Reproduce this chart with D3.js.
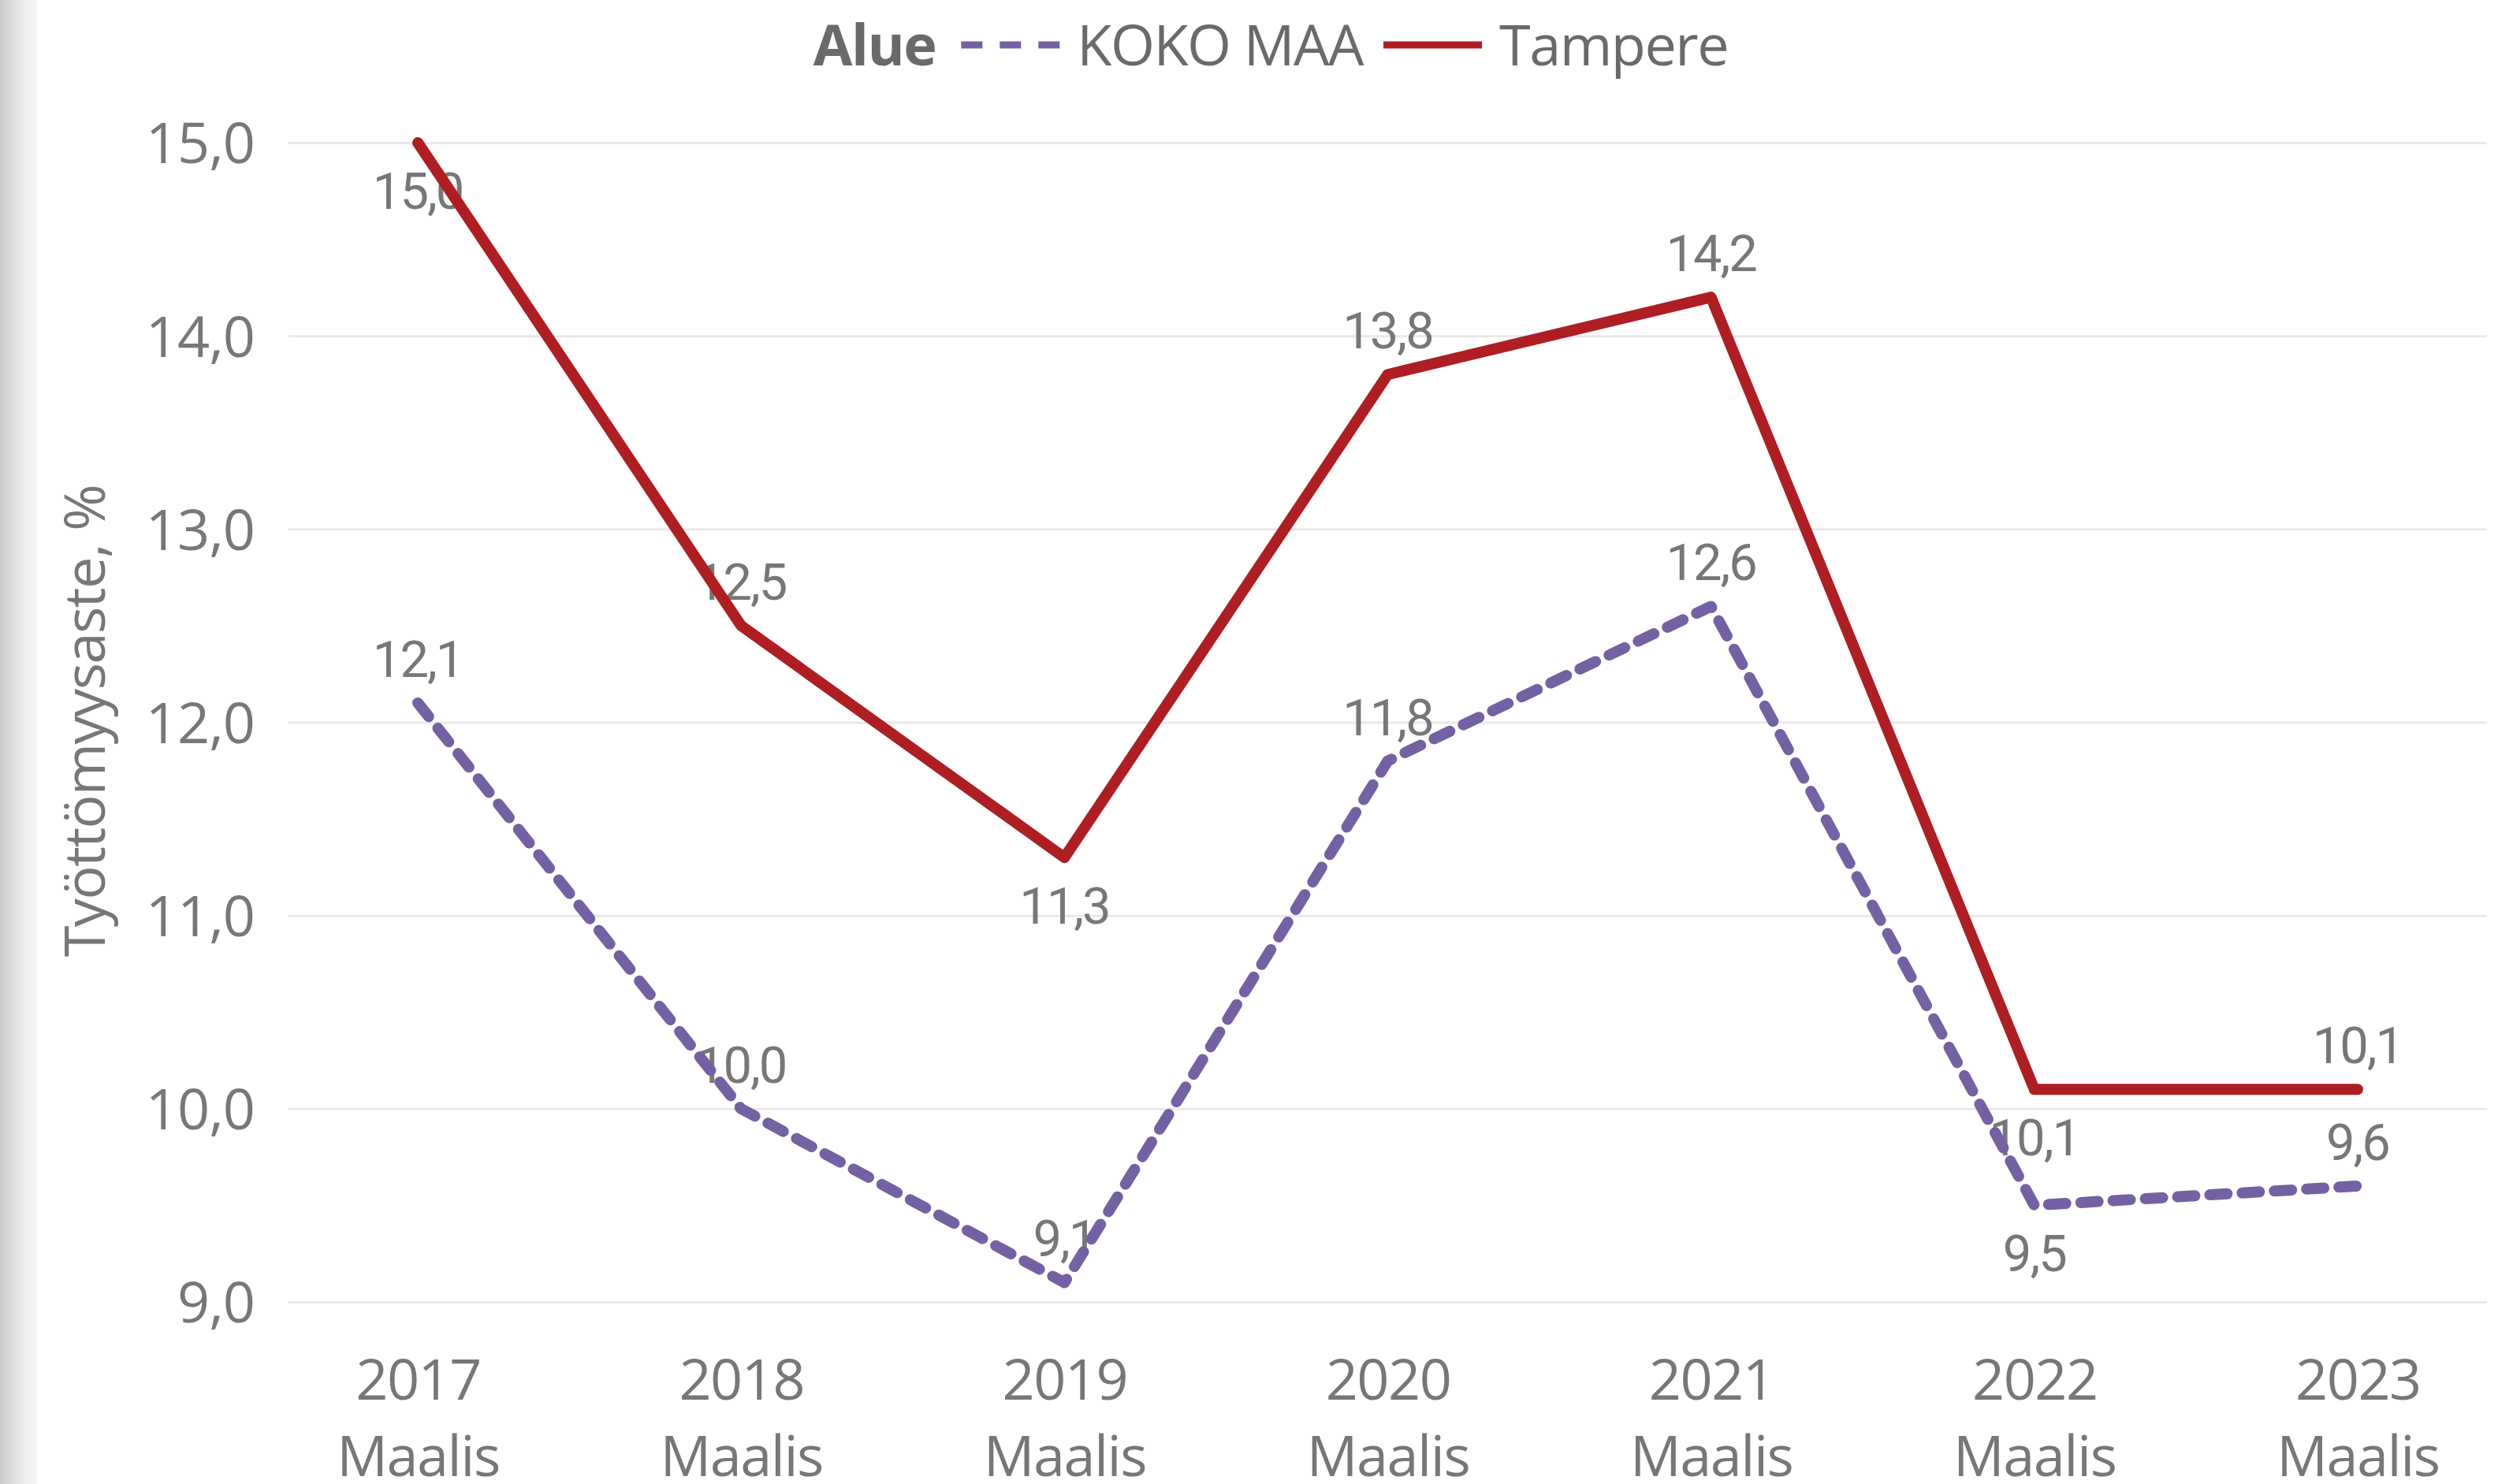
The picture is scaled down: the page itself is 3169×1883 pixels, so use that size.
<!DOCTYPE html>
<html>
<head>
<meta charset="utf-8">
<script src="https://cdn.jsdelivr.net/npm/d3@7"></script>
<style>
  html, body { margin: 0; padding: 0; background: #fff; }
  svg { display: block; }
</style>
</head>
<body>
<div id="root"></div>
<script>
// chart data
const years = ["2017", "2018", "2019", "2020", "2021", "2022", "2023"];
const month = "Maalis";
const kokoMaa = [12.1, 10.0, 9.1, 11.8, 12.6, 9.5, 9.6];
const tampere = [15.0, 12.5, 11.3, 13.8, 14.2, 10.1, 10.1];
const yTicks = [9, 10, 11, 12, 13, 14, 15];
const legendTitle = "Alue";
const yTitle = "Työttömyysaste, %";

// which side of the point each data label sits on
const kokoMaaLabelSide = ["up", "up", "up", "up", "up", "down", "up"];
const tampereLabelSide = ["down", "up", "down", "up", "up", "down", "up"];

const W = 3169, H = 1883;
const plotLeft = 366, plotRight = 3155, plotTop = 181, plotBottom = 1652;
const grey = "#777777";
const red = "#AF1E23";
const purple = "#7461A3";
const fmt = (v) => d3.format(".1f")(v).replace(".", ",");

const svg = d3.select("#root").append("svg")
  .attr("width", W)
  .attr("height", H)
  .attr("viewBox", `0 0 ${W} ${H}`);

// grey strip on the left edge
const grad = svg.append("defs").append("linearGradient")
  .attr("id", "edge").attr("x1", 0).attr("x2", 1).attr("y1", 0).attr("y2", 0);
grad.append("stop").attr("offset", 0).attr("stop-color", "#c9c9c9");
grad.append("stop").attr("offset", 0.6).attr("stop-color", "#ececec");
grad.append("stop").attr("offset", 1).attr("stop-color", "#f4f4f4");
svg.append("rect").attr("x", 0).attr("y", 0).attr("width", 47).attr("height", H)
  .attr("fill", "url(#edge)");

const x = d3.scalePoint().domain(years).range([plotLeft, plotRight]).padding(0.4);
const y = d3.scaleLinear().domain([9, 15]).range([plotBottom, plotTop]);

// y axis + gridlines
const yAxis = svg.append("g")
  .attr("transform", `translate(${plotLeft},0)`)
  .call(d3.axisLeft(y)
    .tickValues(yTicks)
    .tickFormat(fmt)
    .tickSize(-(plotRight - plotLeft))
    .tickPadding(43));
yAxis.select(".domain").remove();
yAxis.selectAll(".tick line").attr("stroke", "#e9e9e9").attr("stroke-width", 3);
yAxis.selectAll(".tick text")
  .attr("fill", grey)
  .attr("font-family", "'Open Sans', sans-serif")
  .attr("font-size", 72)
  .attr("letter-spacing", -1)
  .attr("dy", "0.36em");

// x axis, two-line labels
const xAxis = svg.append("g")
  .attr("transform", `translate(0,${plotBottom})`)
  .call(d3.axisBottom(x).tickSize(0).tickFormat(""));
xAxis.select(".domain").remove();
xAxis.selectAll(".tick text").remove();
xAxis.selectAll(".tick").each(function (d) {
  const t = d3.select(this).append("text")
    .attr("fill", grey)
    .attr("font-family", "'Open Sans', sans-serif")
    .attr("font-size", 72)
    .attr("letter-spacing", -1.5)
    .attr("text-anchor", "middle");
  t.append("tspan").attr("x", 0).attr("y", 124).text(d);
  t.append("tspan").attr("x", 0).attr("y", 221).text(month);
});

// y title
svg.append("text")
  .attr("transform", `translate(133,915) rotate(-90)`)
  .attr("text-anchor", "middle")
  .attr("fill", grey)
  .attr("font-family", "'Open Sans', sans-serif")
  .attr("font-size", 72)
  .attr("letter-spacing", -1.5)
  .text(yTitle);

const series = [
  { name: "KOKO MAA", values: kokoMaa, sides: kokoMaaLabelSide, color: purple, dash: "22,19" },
  { name: "Tampere", values: tampere, sides: tampereLabelSide, color: red, dash: null },
];

// data labels (drawn under the lines)
const labels = svg.append("g")
  .attr("fill", grey)
  .attr("font-family", "Roboto, sans-serif")
  .attr("font-size", 65)
  .attr("letter-spacing", -2)
  .attr("text-anchor", "middle");
series.forEach((s) => {
  labels.selectAll(null)
    .data(s.values.map((v, i) => ({ v, year: years[i], side: s.sides[i] })))
    .join("text")
    .attr("x", (d) => x(d.year))
    .attr("y", (d) => y(d.v) + (d.side === "up" ? -33 : 84))
    .text((d) => fmt(d.v));
});

// lines
const line = d3.line()
  .x((d, i) => x(years[i]))
  .y((d) => y(d));
series.forEach((s) => {
  svg.append("path")
    .datum(s.values)
    .attr("d", line)
    .attr("fill", "none")
    .attr("stroke", s.color)
    .attr("stroke-width", 14)
    .attr("stroke-linejoin", "round")
    .attr("stroke-linecap", "round")
    .attr("stroke-dasharray", s.dash);
});

// legend
const legend = svg.append("g")
  .attr("font-family", "'Open Sans', sans-serif")
  .attr("font-size", 72)
  .attr("fill", "#6a6a6a");
let cx = 0;
const title = legend.append("text").attr("x", cx).attr("y", 83)
  .attr("font-weight", "bold").attr("letter-spacing", -1.5).text(legendTitle);
cx += title.node().getComputedTextLength() + 32;
series.forEach((s, i) => {
  legend.append("line")
    .attr("x1", cx).attr("x2", cx + 125)
    .attr("y1", 57).attr("y2", 57)
    .attr("stroke", s.color)
    .attr("stroke-width", 9)
    .attr("stroke-dasharray", s.dash ? "27,22" : null);
  cx += 125 + 22;
  const t = legend.append("text").attr("x", cx).attr("y", 83)
    .attr("letter-spacing", -1.5).text(s.name);
  cx += t.node().getComputedTextLength() + (i === 0 ? 26 : 0);
});
legend.attr("transform", `translate(${1612 - cx / 2},0)`);
</script>
</body>
</html>
